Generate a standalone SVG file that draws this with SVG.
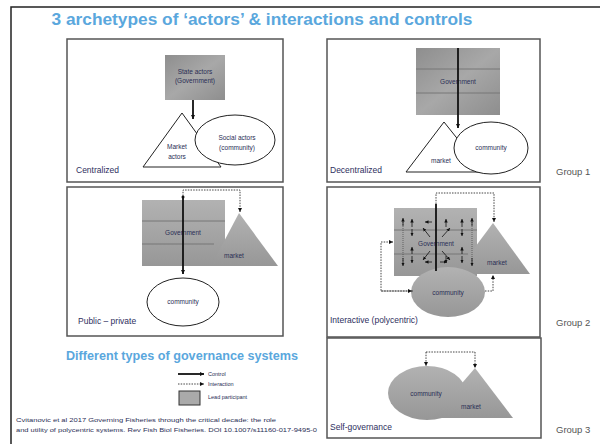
<svg xmlns="http://www.w3.org/2000/svg" width="600" height="444" viewBox="0 0 600 444">
<defs>
<linearGradient id="g" x1="0" y1="0" x2="0" y2="1">
<stop offset="0" stop-color="#b2b2b2"/><stop offset="1" stop-color="#979797"/>
</linearGradient>
<linearGradient id="g2" x1="0" y1="0" x2="1" y2="1">
<stop offset="0" stop-color="#8e8e8e"/><stop offset="0.5" stop-color="#a8a8a8"/><stop offset="1" stop-color="#8e8e8e"/>
</linearGradient>
<marker id="ah" viewBox="0 0 6 6" refX="6" refY="3" markerWidth="4" markerHeight="4" markerUnits="userSpaceOnUse" orient="auto">
<path d="M0,0 L6,3 L0,6 z" fill="#111"/>
</marker>
<marker id="ahs" viewBox="0 0 6 6" refX="6" refY="3" markerWidth="3.5" markerHeight="3.5" markerUnits="userSpaceOnUse" orient="auto">
<path d="M0,0 L6,3 L0,6 z" fill="#111"/>
</marker>
</defs>
<style>
.panel{fill:#fff;stroke:#555;stroke-width:1.5}
.wshape{fill:#fff;stroke:#222;stroke-width:1}
.gshape{fill:url(#g);stroke:none}
.band{stroke:#777;stroke-width:1}
.ctrl{stroke:#111;stroke-width:1.8;fill:none}
.inter{stroke:#444;stroke-width:1;stroke-dasharray:1.5 1.2;fill:none}
.small{stroke:#111;stroke-width:0.8;fill:none}
.sdot{stroke:#333;stroke-width:0.6;stroke-dasharray:1 1;fill:none}
.t{font-family:"Liberation Sans",Arial,sans-serif;font-size:6.5px;fill:#2a2e55;text-anchor:middle}
.lab{font-family:"Liberation Sans",Arial,sans-serif;font-size:8.5px;fill:#2e2f5e}
.grp{font-family:"Liberation Sans",Arial,sans-serif;font-size:9.5px;fill:#555}
.title{font-family:"Liberation Sans",Arial,sans-serif;font-weight:bold;fill:#5aa7dd}
.cite{font-family:"Liberation Sans",Arial,sans-serif;font-size:5.5px;fill:#2a2e55}
</style>
<rect x="11" y="7" width="600" height="450" fill="#fff" stroke="#222" stroke-width="1.5"/>
<text class="title" x="262" y="25" font-size="17" text-anchor="middle" textLength="421" lengthAdjust="spacingAndGlyphs">3 archetypes of ‘actors’ &amp; interactions and controls</text>

<g id="centralized">
<rect class="panel" x="67" y="39" width="216" height="143"/>
<rect x="165" y="55" width="60" height="45" fill="url(#g2)"/>
<text class="t" x="195" y="74">State actors</text>
<text class="t" x="195" y="83">(Government)</text>
<polygon class="wshape" points="182,113 143,167 221,167"/>
<text class="t" x="177" y="149">Market</text>
<text class="t" x="177" y="159">actors</text>
<ellipse class="wshape" cx="235" cy="140" rx="40" ry="25"/>
<text class="t" x="237" y="140">Social actors</text>
<text class="t" x="237" y="150">(community)</text>
<text class="lab" x="76" y="173">Centralized</text>
</g>

<g id="decentralized">
<rect class="panel" x="327" y="39" width="213" height="143"/>
<rect x="416" y="48" width="84" height="67" fill="url(#g2)"/>
<line class="band" x1="416" y1="69" x2="500" y2="69"/>
<line class="band" x1="416" y1="93" x2="500" y2="93"/>
<text class="t" x="458" y="84">Government</text>
<polygon class="wshape" points="444,122 406,172 484,172"/>
<ellipse class="wshape" cx="491" cy="148" rx="37" ry="26"/>
<text class="t" x="491" y="150">community</text>
<text class="t" x="441" y="163">market</text>
<text class="lab" x="330" y="173">Decentralized</text>
</g>

<g id="public-private">
<rect class="panel" x="67" y="187" width="216" height="149"/>
<rect class="gshape" x="142" y="200" width="83" height="66"/>
<line class="band" x1="142" y1="221" x2="225" y2="221"/>
<line class="band" x1="142" y1="244" x2="214" y2="244"/>
<text class="t" x="183" y="235">Government</text>
<polygon class="gshape" points="239,213 211,266 278,266"/>
<text class="t" x="234" y="258">market</text>
<ellipse class="wshape" cx="183" cy="302" rx="36" ry="24"/>
<text class="t" x="183" y="304">community</text>
<text class="lab" x="78" y="324">Public – private</text>
</g>

<g id="interactive">
<rect class="panel" x="327" y="187" width="213" height="150"/>
<rect class="gshape" x="394" y="208" width="83" height="68"/>
<line class="band" x1="394" y1="230" x2="477" y2="230"/>
<line class="band" x1="394" y1="254" x2="468" y2="254"/>
<polygon class="gshape" points="493,223 455,274 530,274"/>
<ellipse cx="448" cy="292" rx="37" ry="25" fill="url(#g)"/>
<text class="t" x="436" y="246" fill="#3a3a6a">Government</text>
<text class="t" x="497" y="265">market</text>
<text class="t" x="448" y="295">community</text>
<text class="lab" x="330" y="323">Interactive (polycentric)</text>
</g>

<g id="self-governance">
<rect class="panel" x="327" y="338" width="214" height="100"/>
<ellipse cx="427" cy="393" rx="39" ry="27" fill="url(#g)"/>
<polygon points="475,368 432,418 513,418" fill="url(#g)"/>
<text class="t" x="426" y="396">community</text>
<text class="t" x="471" y="409">market</text>
<text class="lab" x="330" y="430">Self-governance</text>
</g>

<g id="group-labels">
<text class="grp" x="556" y="175">Group 1</text>
<text class="grp" x="556" y="326">Group 2</text>
<text class="grp" x="556" y="433">Group 3</text>
</g>

<g id="legend">
<text class="title" x="182" y="360" font-size="12" text-anchor="middle" textLength="232" lengthAdjust="spacingAndGlyphs">Different types of governance systems</text>
<line class="ctrl" x1="178" y1="374" x2="204" y2="374" stroke-width="1.2" marker-end="url(#ah)"/>
<text class="cite" x="208" y="376">Control</text>
<line class="inter" x1="178" y1="384" x2="204" y2="384" stroke="#999" marker-end="url(#ah)"/>
<text class="cite" x="208" y="386">Interaction</text>
<rect x="179" y="391" width="21" height="14" fill="#aaa" stroke="#333" stroke-width="1"/>
<text class="cite" x="208" y="399">Lead participant</text>
<text class="cite" x="16" y="422" textLength="260" lengthAdjust="spacingAndGlyphs">Cvitanovic et al 2017 Governing Fisheries through the critical decade: the role</text>
<text class="cite" x="16" y="432" textLength="301" lengthAdjust="spacingAndGlyphs">and utility of polycentric systems. Rev Fish Biol Fisheries. DOI 10.1007/s11160-017-9495-0</text>
</g>

<g id="connectors">
<line class="ctrl" x1="193" y1="100" x2="193" y2="119" stroke-width="1" marker-end="url(#ah)"/>
<line class="ctrl" x1="458" y1="48" x2="458" y2="128" marker-end="url(#ah)"/>
<path class="inter" d="M183,196 L183,190 L240,190 L240,212" marker-end="url(#ah)"/>
<line class="ctrl" x1="183" y1="196" x2="183" y2="274" marker-end="url(#ah)"/>
<circle cx="183" cy="197" r="1.5" fill="#111"/>
<path class="inter" d="M436,204 L436,193 L494,193 L494,222" marker-end="url(#ah)"/>
<line class="ctrl" x1="436" y1="204" x2="436" y2="271"/>
<path class="inter" d="M413,291 L381,291 L381,242 L393,242" marker-end="url(#ah)"/>
<path class="inter" d="M381,291 L412,291" marker-end="url(#ah)"/>
<path class="inter" d="M485,291 L493,291 L493,275" marker-end="url(#ah)"/>
<line class="sdot" x1="403" y1="222" x2="403" y2="262"/>
<line class="small" x1="403" y1="226" x2="403" y2="218" marker-end="url(#ahs)"/>
<line class="small" x1="403" y1="258" x2="403" y2="266" marker-end="url(#ahs)"/>
<line class="small" x1="412" y1="227" x2="412" y2="219" marker-end="url(#ahs)"/>
<line class="small" x1="412" y1="229" x2="412" y2="236" marker-end="url(#ahs)"/>
<line class="small" x1="412" y1="254" x2="412" y2="247" marker-end="url(#ahs)"/>
<line class="small" x1="412" y1="256" x2="412" y2="263" marker-end="url(#ahs)"/>
<line class="small" x1="446" y1="227" x2="446" y2="219" marker-end="url(#ahs)"/>
<line class="small" x1="446" y1="256" x2="446" y2="263" marker-end="url(#ahs)"/>
<line class="small" x1="462" y1="227" x2="462" y2="219" marker-end="url(#ahs)"/>
<line class="small" x1="462" y1="229" x2="462" y2="236" marker-end="url(#ahs)"/>
<line class="small" x1="462" y1="254" x2="462" y2="247" marker-end="url(#ahs)"/>
<line class="small" x1="462" y1="256" x2="462" y2="263" marker-end="url(#ahs)"/>
<line class="sdot" x1="472" y1="222" x2="472" y2="262"/>
<line class="small" x1="472" y1="226" x2="472" y2="218" marker-end="url(#ahs)"/>
<line class="small" x1="472" y1="258" x2="472" y2="266" marker-end="url(#ahs)"/>
<line class="small" x1="430" y1="237" x2="423" y2="228" marker-end="url(#ahs)"/>
<line class="small" x1="442" y1="237" x2="450" y2="228" marker-end="url(#ahs)"/>
<line class="small" x1="430" y1="251" x2="423" y2="260" marker-end="url(#ahs)"/>
<line class="small" x1="442" y1="251" x2="450" y2="260" marker-end="url(#ahs)"/>
<line class="small" x1="432" y1="262" x2="425" y2="262" marker-end="url(#ahs)"/>
<line class="small" x1="440" y1="262" x2="447" y2="262" marker-end="url(#ahs)"/>
<line class="small" x1="432" y1="222" x2="425" y2="222" marker-end="url(#ahs)"/>
<path class="inter" d="M426,352 L475,352"/>
<line class="inter" x1="426" y1="352" x2="426" y2="366" marker-end="url(#ah)"/>
<line class="inter" x1="475" y1="352" x2="475" y2="368" marker-end="url(#ah)"/>
</g>
</svg>
